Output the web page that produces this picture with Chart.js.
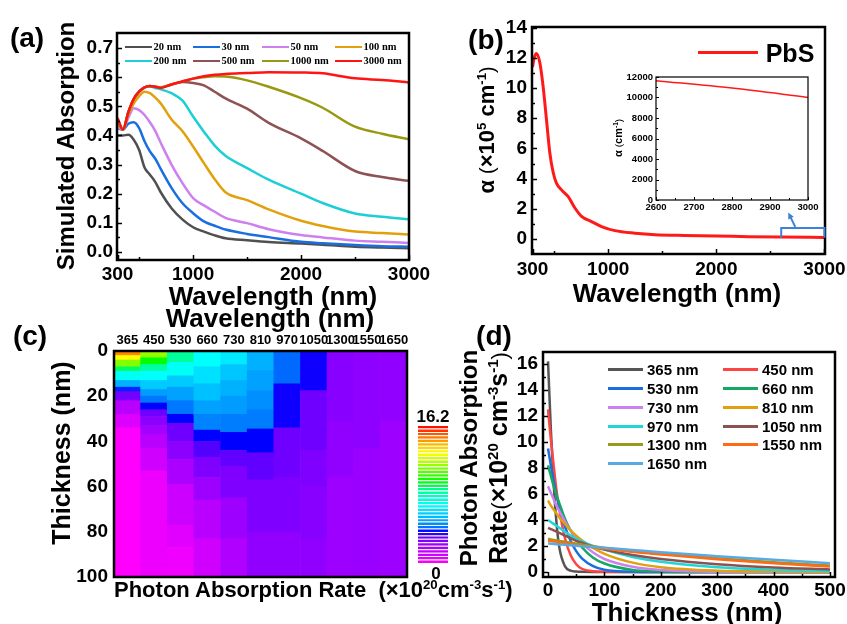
<!DOCTYPE html>
<html>
<head>
<meta charset="utf-8">
<script src="https://cdn.jsdelivr.net/npm/chart.js@4.4.0/dist/chart.umd.min.js"></script>
<style>
body { margin: 0; background: #fff; }
#fig { position: relative; width: 847px; height: 624px; overflow: hidden; background: #fff;
       font-family: "Liberation Sans", Arial, sans-serif; font-weight: bold; color: #000; }
#fig canvas { position: absolute; }
.t { position: absolute; white-space: nowrap; line-height: 1; }
.c { transform: translate(-50%, -50%); }
.r { transform: translate(-50%, -50%) rotate(-90deg); }
.s { font-size: 60%; position: relative; top: -0.6em; }
.p { font-weight: normal; font-size: 90%; }
</style>
</head>
<body>
<div id="fig">
  <canvas id="ca" width="440" height="300" style="left:0;top:0"></canvas>
  <canvas id="cb" width="427" height="300" style="left:420px;top:0"></canvas>
  <canvas id="cinset" width="230" height="145" style="left:600px;top:70px"></canvas>
  <canvas id="cc" width="420" height="262" style="left:0;top:320px"></canvas>
  <canvas id="cbar" width="30" height="138" style="left:418px;top:425px"></canvas>
  <canvas id="cd" width="427" height="304" style="left:420px;top:320px"></canvas>

  <div class="t c" style="left:27px;top:38px;font-size:28px">(a)</div>
  <div class="t r" style="left:66px;top:146px;font-size:24px">Simulated Absorption</div>
  <div class="t c" style="left:273px;top:296px;font-size:26px">Wavelength (nm)</div>
  <div class="t c" style="left:270px;top:318px;font-size:26px">Wavelength (nm)</div>

  <div class="t c" style="left:486px;top:40px;font-size:28px">(b)</div>
  <div class="t r" style="left:487px;top:130px;font-size:22px">α <span class="p">(</span>×10<span class="s">5</span> cm<span class="s">-1</span><span class="p">)</span></div>
  <div style="position:absolute;left:698px;top:50.5px;width:60px;height:3px;background:#ff1a1a"></div>
  <div class="t c" style="left:790px;top:53px;font-size:25px">PbS</div>
  <div class="t c" style="left:677px;top:293px;font-size:26px">Wavelength (nm)</div>
  <div class="t r" style="left:618px;top:138px;font-size:11px">α <span class="p">(</span>cm<span class="s">-1</span><span class="p">)</span></div>

  <div class="t c" style="left:30px;top:336px;font-size:28px">(c)</div>
  <div class="t r" style="left:61px;top:453px;font-size:25px">Thickness (nm)</div>
  <div class="t c" style="left:433px;top:416px;font-size:17px">16.2</div>
  <div class="t c" style="left:436px;top:573px;font-size:17px">0</div>
  <div class="t" style="left:114px;top:590px;transform:translateY(-50%);font-size:22px">Photon Absorption Rate&nbsp;&nbsp;(×10<span class="s">20</span>cm<span class="s">-3</span>s<span class="s">-1</span>)</div>

  <div class="t c" style="left:494px;top:336px;font-size:28px">(d)</div>
  <div class="t r" style="left:469px;top:458px;font-size:24px">Photon Absorption</div>
  <div class="t r" style="left:499px;top:458px;font-size:25px">Rate<span class="p">(</span>×10<span class="s">20</span> cm<span class="s">-3</span>s<span class="s">-1</span><span class="p">)</span></div>
  <div class="t c" style="left:687px;top:612px;font-size:26px">Thickness (nm)</div>
</div>

<script>
// ---------- (a) simulated absorption vs wavelength ----------
const wlA = [300, 350, 400, 450, 500, 550, 600, 650, 700, 800, 900, 1000, 1100, 1200, 1300, 1500, 1700, 2000, 2200, 2500, 2750, 3000];
const abs20   = [0.400, 0.400, 0.402, 0.385, 0.350, 0.290, 0.265, 0.240, 0.205, 0.150, 0.112, 0.085, 0.070, 0.057, 0.047, 0.040, 0.034, 0.029, 0.025, 0.018, 0.015, 0.013];
const abs30   = [0.425, 0.420, 0.440, 0.445, 0.425, 0.380, 0.345, 0.320, 0.285, 0.220, 0.168, 0.133, 0.105, 0.090, 0.077, 0.062, 0.051, 0.035, 0.030, 0.024, 0.020, 0.018];
const abs50   = [0.430, 0.420, 0.460, 0.493, 0.487, 0.470, 0.445, 0.415, 0.375, 0.300, 0.237, 0.185, 0.160, 0.138, 0.117, 0.099, 0.078, 0.058, 0.050, 0.039, 0.035, 0.031];
const abs100  = [0.440, 0.420, 0.470, 0.510, 0.535, 0.550, 0.545, 0.530, 0.510, 0.455, 0.415, 0.362, 0.305, 0.250, 0.205, 0.178, 0.146, 0.107, 0.089, 0.070, 0.065, 0.060];
const abs200  = [0.450, 0.420, 0.480, 0.525, 0.550, 0.565, 0.568, 0.563, 0.558, 0.545, 0.520, 0.465, 0.413, 0.365, 0.330, 0.288, 0.248, 0.200, 0.168, 0.132, 0.121, 0.112];
const abs500  = [0.455, 0.420, 0.480, 0.525, 0.550, 0.565, 0.570, 0.567, 0.565, 0.575, 0.583, 0.580, 0.572, 0.550, 0.527, 0.492, 0.443, 0.390, 0.347, 0.278, 0.257, 0.244];
const abs1000 = [0.458, 0.420, 0.480, 0.525, 0.550, 0.565, 0.570, 0.567, 0.565, 0.575, 0.585, 0.595, 0.600, 0.603, 0.602, 0.589, 0.567, 0.528, 0.495, 0.430, 0.406, 0.387];
const abs3000 = [0.460, 0.420, 0.480, 0.525, 0.550, 0.565, 0.570, 0.567, 0.563, 0.575, 0.585, 0.595, 0.603, 0.608, 0.611, 0.614, 0.617, 0.616, 0.613, 0.596, 0.590, 0.582];
const absLabels = ['20 nm', '30 nm', '50 nm', '100 nm', '200 nm', '500 nm', '1000 nm', '3000 nm'];
const absColors = ['#505050', '#1a6fe0', '#cf80ef', '#e2a10c', '#1ccfd6', '#8e5252', '#999911', '#ff1414'];
const absSeries = [abs20, abs30, abs50, abs100, abs200, abs500, abs1000, abs3000];
const wlTicks = [300, 1000, 2000, 3000];
const wlMinor = [500, 1500, 2500];
const absTicks = [0.0, 0.1, 0.2, 0.3, 0.4, 0.5, 0.6, 0.7];
const absMinor = [0.05, 0.15, 0.25, 0.35, 0.45, 0.55, 0.65];

// ---------- (b) PbS absorption coefficient ----------
const wlB = [300, 315, 336, 367, 398, 429, 460, 491, 521, 568, 630, 692, 753, 845, 938, 1062, 1247, 1432, 1700, 2000, 2300, 2600, 3000];
const alphaPbS = [11.4, 12.0, 12.3, 11.7, 10.1, 7.9, 5.7, 4.4, 3.7, 3.25, 2.8, 2.05, 1.5, 1.15, 0.82, 0.55, 0.38, 0.28, 0.23, 0.20, 0.15, 0.12, 0.10];
const alphaTicks = [0, 2, 4, 6, 8, 10, 12, 14];
const alphaMinor = [1, 3, 5, 7, 9, 11, 13];
const wlInset = [2600, 2800, 3000];
const alphaInset = [11640, 10920, 10010];
const insetXTicks = [2600, 2700, 2800, 2900, 3000];
const insetXMinor = [2650, 2750, 2850, 2950];
const insetYTicks = [0, 2000, 4000, 6000, 8000, 10000, 12000];
const insetYMinor = [1000, 3000, 5000, 7000, 9000, 11000];

// ---------- (c) photon absorption rate map ----------
const heatCats = ['365', '450', '530', '660', '730', '810', '970', '1050', '1300', '1550', '1650'];
// thickness (nm) where each colour block starts, and the rate in it (x10^20 cm^-3 s^-1)
const heatBreaks = [
  [0, 2, 4, 7, 9, 13, 16, 18, 22, 28, 34],
  [0, 3, 6, 9, 13, 17, 20, 23, 26, 29, 33, 37, 43, 53],
  [0, 5, 11, 16, 22, 28, 32, 40, 48, 59, 77, 87],
  [0, 7, 14.5, 22, 28, 35, 40, 47, 56, 66, 83],
  [0, 6, 13, 20, 28, 36, 44, 51, 65, 83],
  [0, 8.6, 17.5, 26, 34.5, 45, 57, 80],
  [0, 14.5, 34, 56, 80],
  [0, 17.5, 44, 60, 84],
  [0, 31, 56],
  [0, 43],
  [0, 31]
];
const heatValues = [
  [14.6, 13.0, 11.3, 9.0, 7.0, 5.3, 3.9, 2.9, 1.6, 0.8, 0],
  [11.5, 9.7, 8.4, 6.8, 5.8, 4.9, 4.3, 3.8, 3.0, 2.5, 2.1, 1.6, 1.1, 0.4],
  [8.6, 7.0, 5.8, 5.0, 4.3, 3.8, 3.0, 2.5, 1.9, 1.2, 0.7, 0.35],
  [6.8, 6.2, 5.6, 5.0, 4.5, 3.8, 3.2, 2.7, 2.2, 1.6, 1.1],
  [6.4, 5.7, 5.3, 4.9, 4.4, 3.8, 3.1, 2.7, 2.2, 1.8],
  [5.3, 5.0, 4.7, 4.4, 3.8, 3.1, 2.7, 2.4],
  [4.1, 3.7, 3.0, 2.7, 2.4],
  [3.7, 3.0, 2.7, 2.55, 2.4],
  [2.55, 2.4, 2.2],
  [2.45, 2.25],
  [2.4, 2.2]
];
const thickTicksC = [0, 20, 40, 60, 80, 100];
const rateMax = 16.2;
// colour map of the colour bar: [rate, hue]
const cmapStops = [[0, 300], [1.1, 289], [2.2, 277], [2.7, 270], [3.0, 266], [3.8, 240], [4.1, 215], [5.0, 202],
                   [6.8, 180], [8.6, 156], [9.7, 120], [11.5, 85], [13, 60], [14.6, 32], [16.2, 0]];

// ---------- (d) photon absorption rate vs thickness ----------
const thickD = [0, 5, 10, 15, 20, 30, 40, 50, 60, 80, 100, 150, 200, 300, 400, 500];
const g365  = [16.2, 11.0, 6.8, 3.8, 1.9, 0.45, 0.10, 0.03, 0.01, 0, 0, 0, 0, 0, 0, 0];
const g450  = [12.5, 10.2, 8.2, 6.3, 4.8, 2.6, 1.3, 0.6, 0.25, 0.05, 0.01, 0, 0, 0, 0, 0];
const g530  = [9.5, 8.2, 7.0, 5.9, 5.0, 3.5, 2.4, 1.6, 1.05, 0.45, 0.18, 0.02, 0, 0, 0, 0];
const g660  = [8.2, 7.4, 6.6, 5.9, 5.3, 4.1, 3.2, 2.5, 1.9, 1.1, 0.65, 0.15, 0.04, 0, 0, 0];
const g730  = [6.6, 6.1, 5.6, 5.1, 4.7, 3.9, 3.2, 2.65, 2.2, 1.5, 1.0, 0.4, 0.15, 0.02, 0, 0];
const g810  = [5.5, 5.1, 4.8, 4.5, 4.2, 3.7, 3.2, 2.8, 2.45, 1.85, 1.4, 0.72, 0.37, 0.1, 0.03, 0.01];
const g970  = [4.0, 3.85, 3.7, 3.55, 3.4, 3.1, 2.8, 2.55, 2.35, 2.0, 1.72, 1.15, 0.78, 0.36, 0.17, 0.08];
const g1050 = [3.4, 3.3, 3.2, 3.1, 3.0, 2.8, 2.6, 2.4, 2.25, 1.95, 1.72, 1.3, 1.0, 0.6, 0.35, 0.2];
const g1300 = [2.55, 2.51, 2.47, 2.43, 2.39, 2.32, 2.25, 2.18, 2.12, 1.98, 1.85, 1.6, 1.4, 1.05, 0.75, 0.5];
const g1550 = [2.42, 2.39, 2.35, 2.32, 2.28, 2.21, 2.15, 2.08, 2.02, 1.9, 1.8, 1.55, 1.35, 0.98, 0.68, 0.42];
const g1650 = [2.2, 2.18, 2.16, 2.14, 2.12, 2.09, 2.05, 2.02, 1.98, 1.92, 1.86, 1.7, 1.52, 1.22, 0.94, 0.67];
const rateLabels = ['365 nm', '450 nm', '530 nm', '660 nm', '730 nm', '810 nm', '970 nm', '1050 nm', '1300 nm', '1550 nm', '1650 nm'];
const rateColors = ['#555555', '#ff4444', '#1a6fe0', '#14a862', '#cc82ee', '#e0a010', '#22d6d8', '#8c5252', '#99991a', '#ff6a14', '#5aaae2'];
const rateSeries = [g365, g450, g530, g660, g730, g810, g970, g1050, g1300, g1550, g1650];
const thickTicksD = [0, 100, 200, 300, 400, 500];
const thickMinorD = [50, 150, 250, 350, 450];
const rateTicks = [0, 2, 4, 6, 8, 10, 12, 14, 16];
const rateMinor = [1, 3, 5, 7, 9, 11, 13, 15];

Chart.defaults.font.family = '"Liberation Sans", Arial, sans-serif';
Chart.defaults.color = '#000';

function colorFor(v) {
  let h = cmapStops[cmapStops.length - 1][1];
  for (let i = 1; i < cmapStops.length; i++) {
    const [v0, h0] = cmapStops[i - 1], [v1, h1] = cmapStops[i];
    if (v <= v1) { h = h0 + (h1 - h0) * (v - v0) / (v1 - v0); break; }
  }
  return 'hsl(' + h.toFixed(1) + ',100%,50%)';
}

// frame box plus inward tick marks (labelled ticks long, blank ones short)
const frameTicks = {
  id: 'frameTicks',
  beforeDraw(chart, args, o) {
    if (!o.fill) return;
    const a = chart.chartArea, ctx = chart.ctx;
    ctx.save(); ctx.fillStyle = o.fill; ctx.fillRect(a.left, a.top, a.width, a.height); ctx.restore();
  },
  afterDatasetsDraw(chart, args, o) {
    const {ctx, chartArea: a} = chart;
    ctx.save();
    ctx.strokeStyle = '#000';
    ctx.lineWidth = o.tickWidth || 1.5;
    (o.axes || []).forEach(id => {
      const s = chart.scales[id];
      s.ticks.forEach(t => {
        const len = t.label === '' ? o.minor : o.major;
        const p = Math.round(s.getPixelForValue(t.value)) + 0.5;
        ctx.beginPath();
        if (s.isHorizontal()) { ctx.moveTo(p, a.bottom); ctx.lineTo(p, a.bottom - len); }
        else { ctx.moveTo(a.left, p); ctx.lineTo(a.left + len, p); }
        ctx.stroke();
      });
    });
    ctx.lineWidth = o.frame;
    ctx.strokeRect(a.left, a.top, a.width, a.height);
    ctx.restore();
  }
};

// blue bracket and arrow pointing from the 2600-3000 nm range to the inset
const zoomMark = {
  id: 'zoomMark',
  afterDatasetsDraw(chart, args, o) {
    const {ctx, scales: {x, y}} = chart;
    const x0 = x.getPixelForValue(o.x0), x1 = x.getPixelForValue(o.x1);
    const yt = y.getPixelForValue(o.top), yb = y.getPixelForValue(o.bottom);
    ctx.save();
    ctx.strokeStyle = o.color; ctx.fillStyle = o.color; ctx.lineWidth = 2;
    ctx.beginPath(); ctx.moveTo(x0, yb); ctx.lineTo(x0, yt); ctx.lineTo(x1, yt); ctx.lineTo(x1, yb); ctx.stroke();
    const tx = x.getPixelForValue(o.tail[0]), ty = y.getPixelForValue(o.tail[1]);
    const hx = x.getPixelForValue(o.tip[0]), hy = y.getPixelForValue(o.tip[1]);
    const ang = Math.atan2(hy - ty, hx - tx);
    ctx.beginPath(); ctx.moveTo(tx, ty); ctx.lineTo(hx - 4 * Math.cos(ang), hy - 4 * Math.sin(ang)); ctx.stroke();
    ctx.beginPath();
    ctx.moveTo(hx, hy);
    ctx.lineTo(hx - 7 * Math.cos(ang - 0.45), hy - 7 * Math.sin(ang - 0.45));
    ctx.lineTo(hx - 7 * Math.cos(ang + 0.45), hy - 7 * Math.sin(ang + 0.45));
    ctx.closePath(); ctx.fill();
    ctx.restore();
  }
};

function axis(min, max, major, minor, fmt, size, pad, fit, extra) {
  const all = major.concat(minor).sort((p, q) => p - q);
  return Object.assign({
    type: 'linear', min: min, max: max,
    grid: {display: false, drawTicks: false},
    border: {display: false},
    afterBuildTicks: s => { s.ticks = all.map(v => ({value: v})); },
    afterFit: s => {
      if (s.isHorizontal()) s.height = fit; else s.width = fit;
      s.paddingLeft = s.paddingRight = s.paddingTop = s.paddingBottom = 0;
    },
    ticks: {
      autoSkip: false, maxRotation: 0, minRotation: 0, padding: pad,
      font: {size: size, weight: 'bold'},
      callback: v => major.some(m => Math.abs(m - v) < 1e-9) ? fmt(v) : ''
    }
  }, extra || {});
}

const base = {responsive: false, animation: false, events: []};
const noLegend = {legend: {display: false}, tooltip: {enabled: false}};

function lineSets(xs, series, labels, colors, width) {
  return series.map((ys, i) => ({
    label: labels[i],
    data: xs.map((x, j) => ({x: x, y: ys[j]})),
    borderColor: colors[i], borderWidth: width,
    pointRadius: 0, cubicInterpolationMode: 'monotone',
    order: series.length - i
  }));
}

// (a)
new Chart(document.getElementById('ca'), {
  type: 'line',
  data: {datasets: lineSets(wlA, absSeries, absLabels, absColors, 2.5)},
  options: Object.assign({}, base, {
    layout: {padding: {left: 0, top: 33, right: 31, bottom: 0}},
    plugins: Object.assign({}, noLegend, {frameTicks: {axes: ['x', 'y'], major: 5, minor: 3, frame: 2.5}}),
    scales: {
      x: axis(295, 3000, wlTicks, wlMinor, v => String(v), 19, 3, 40),
      y: axis(-0.0275, 0.7515, absTicks, absMinor, v => v.toFixed(1), 19, 4, 117)
    }
  }),
  plugins: [frameTicks]
});

// (b)
new Chart(document.getElementById('cb'), {
  type: 'line',
  data: {datasets: lineSets(wlB, [alphaPbS], ['PbS'], ['#ff1a1a'], 3)},
  options: Object.assign({}, base, {
    layout: {padding: {left: 0, top: 27, right: 22, bottom: 0}},
    plugins: Object.assign({}, noLegend, {
      frameTicks: {axes: ['x', 'y'], major: 5, minor: 3, frame: 2.5},
      zoomMark: {x0: 2600, x1: 3000, top: 0.73, bottom: 0.07, tail: [2730, 0.8], tip: [2665, 1.75], color: '#3d82d6'}
    }),
    scales: {
      x: axis(295, 3005, wlTicks, wlMinor, v => String(v), 19, 4, 46),
      y: axis(-1, 14.05, alphaTicks, alphaMinor, v => String(v), 19, 5, 112)
    }
  }),
  plugins: [frameTicks, zoomMark]
});

// (b) inset
new Chart(document.getElementById('cinset'), {
  type: 'line',
  data: {datasets: lineSets(wlInset, [alphaInset], ['PbS'], ['#ff1a1a'], 1.5)},
  options: Object.assign({}, base, {
    layout: {padding: {left: 0, top: 7, right: 22, bottom: 0}},
    plugins: Object.assign({}, noLegend, {frameTicks: {axes: ['x', 'y'], major: 3, minor: 2, frame: 1.2, tickWidth: 1, fill: '#fff'}}),
    scales: {
      x: axis(2600, 3000, insetXTicks, insetXMinor, v => String(v), 9.5, 2, 15),
      y: axis(0, 12000, insetYTicks, insetYMinor, v => String(v), 9.5, 3, 56)
    }
  }),
  plugins: [frameTicks]
});

// (c) heat map drawn as floating bars per wavelength column
const heatData = [], heatColors = [];
heatCats.forEach((c, i) => {
  const br = heatBreaks[i], vals = heatValues[i];
  br.forEach((t0, j) => {
    const t1 = j + 1 < br.length ? br[j + 1] : 100;
    heatData.push({x: c, y: [t0, t1]});
    heatColors.push(colorFor(vals[j]));
  });
});
new Chart(document.getElementById('cc'), {
  type: 'bar',
  data: {labels: heatCats, datasets: [{data: heatData, backgroundColor: heatColors, borderWidth: 0,
                                       barPercentage: 1, categoryPercentage: 1}]},
  options: Object.assign({}, base, {
    layout: {padding: {left: 0, top: 0, right: 13, bottom: 5}},
    plugins: Object.assign({}, noLegend, {frameTicks: {axes: [], frame: 2.5}}),
    scales: {
      x: {
        type: 'category', position: 'top',
        grid: {display: false, drawTicks: false}, border: {display: false},
        afterFit: s => { s.height = 31; s.paddingLeft = s.paddingRight = 0; },
        ticks: {autoSkip: false, maxRotation: 0, minRotation: 0, padding: 3, font: {size: 13, weight: 'bold'}}
      },
      y: axis(0, 100, thickTicksC, [], v => String(v), 19, 6, 114, {reverse: true})
    }
  }),
  plugins: [frameTicks]
});

// (c) colour bar
const cbBands = [];
for (let i = 0; i < 40; i++) cbBands.push([rateMax * i / 40, rateMax * (i + 1) / 40]);
new Chart(document.getElementById('cbar'), {
  type: 'bar',
  data: {labels: ['bar'], datasets: [{
    data: cbBands.map(b => ({x: 'bar', y: b})),
    backgroundColor: cbBands.map(b => colorFor((b[0] + b[1]) / 2)),
    borderColor: '#ffffff', borderWidth: {top: 1, bottom: 0, left: 0, right: 0}, borderSkipped: false,
    inflateAmount: 0, barPercentage: 1, categoryPercentage: 1
  }]},
  options: Object.assign({}, base, {
    plugins: noLegend,
    scales: {x: {display: false}, y: {display: false, min: 0, max: rateMax}}
  })
});

// (d)
new Chart(document.getElementById('cd'), {
  type: 'line',
  data: {datasets: lineSets(thickD, rateSeries, rateLabels, rateColors, 2.5)},
  options: Object.assign({}, base, {
    layout: {padding: {left: 0, top: 32, right: 12, bottom: 0}},
    plugins: Object.assign({}, noLegend, {frameTicks: {axes: ['x', 'y'], major: 5, minor: 3, frame: 2.5}}),
    scales: {
      x: axis(-8.9, 508.9, thickTicksD, thickMinorD, v => String(v), 19, 2, 47),
      y: axis(-0.385, 16.92, rateTicks, rateMinor, v => String(v), 19, 5, 123)
    }
  }),
  plugins: [frameTicks]
});

// legends
function addLegend(labels, colors, cols, xs, ys, len, gap, font, lw) {
  const fig = document.getElementById('fig');
  labels.forEach((label, i) => {
    const x = xs[i % cols], y = ys[Math.floor(i / cols)];
    const ln = document.createElement('div');
    ln.style.cssText = 'position:absolute;left:' + x + 'px;top:' + (y - lw / 2) + 'px;width:' + len + 'px;height:' + lw + 'px;background:' + colors[i];
    const tx = document.createElement('div');
    tx.className = 't';
    tx.style.cssText = 'left:' + (x + len + gap) + 'px;top:' + y + 'px;transform:translateY(-50%);font:' + font + ';line-height:1';
    tx.textContent = label;
    fig.append(ln, tx);
  });
}
addLegend(absLabels, absColors, 4, [125, 193, 262, 335], [47, 61], 27, 1.5, 'bold 10.5px "Liberation Serif", serif', 2.5);
addLegend(rateLabels, rateColors, 2, [608, 723], [369, 388, 407, 426, 444, 463], 35, 4, 'bold 15px "Liberation Sans", Arial, sans-serif', 3);
</script>
</body>
</html>
